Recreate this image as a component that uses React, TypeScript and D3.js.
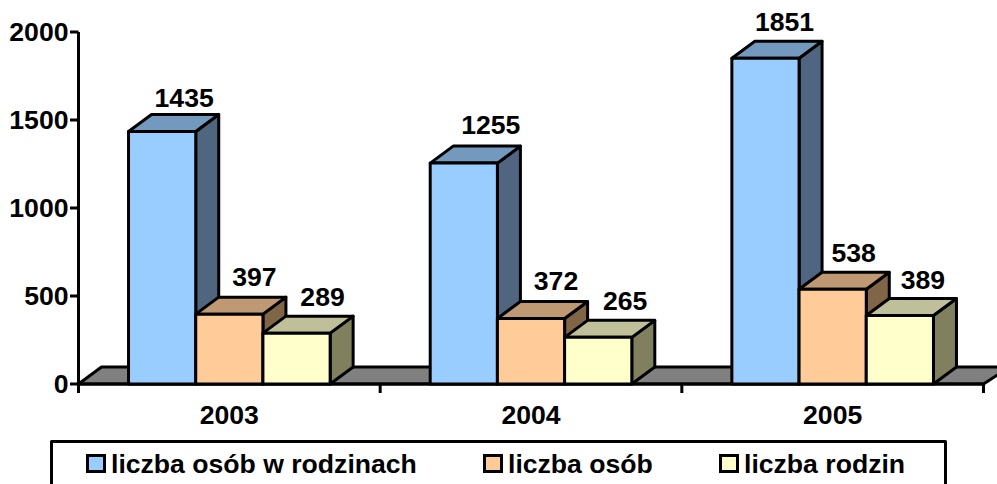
import React from "react";
import * as d3 from "d3";

const years = ["2003", "2004", "2005"];
const seriesNames = ["liczba osób w rodzinach", "liczba osób", "liczba rodzin"];
const personsInFamilies = [1435, 1255, 1851];
const persons = [397, 372, 538];
const families = [289, 265, 389];
const yTicks = [0, 500, 1000, 1500, 2000];
const seriesValues = [personsInFamilies, persons, families];
const frontColors = ["#99ccff", "#ffcc99", "#ffffcc"];
const topColors = ["#7399bf", "#bf9973", "#bfbf99"];
const sideColors = ["#4f6580", "#806547", "#80805f"];
// hand-placed data label nudges, [series][group]
const labelNudgeX = [[0, 5, -3], [3, 3, -1], [4, 5, 1]];
const labelNudgeY = [[0, -5, -3], [-4, -5, -3], [-3, -3, -3]];

const FONT = "'Liberation Sans', Arial, sans-serif";
const FS = 26.6;
const DX = 23;
const DY = -17;

export default function App() {
  const y = d3.scaleLinear().domain([0, 2000]).range([384, 32]);
  const x0 = d3.scaleBand().domain(years).range([78.5, 983.5]);
  const barW = 67.2;
  const base = y(0);
  const stroke = { stroke: "#000", strokeWidth: 3, strokeLinejoin: "round" as const };
  const ticksX = [...years.map((d) => x0(d)!), 983.5];
  return (
    <svg width={997} height={484} style={{ position: "absolute", left: 0, top: 0 }} fontFamily={FONT}>
      <rect width={997} height={484} fill="#fff" />
      <path d={`M78.5,${base}L${78.5 + DX},${base + DY}L1010,${base + DY}L${983.5},${base}Z`} fill="#808080" {...stroke} />
      <line x1={78.5} x2={78.5} y1={y(2000)} y2={base + 9} {...stroke} />
      <line x1={78.5} x2={983.5} y1={base} y2={base} {...stroke} />
      {yTicks.map((t) => (
        <g key={t}>
          <line x1={70} x2={78.5} y1={y(t)} y2={y(t)} {...stroke} />
          <text x={68.5} y={y(t) + 8.5} textAnchor="end" fontSize={FS} fontWeight="bold">{t}</text>
        </g>
      ))}
      {ticksX.map((t, i) => (
        <line key={i} x1={t} x2={t} y1={base} y2={base + 9} {...stroke} />
      ))}
      {years.map((yr, gi) => {
        const start = x0(yr)! + (x0.bandwidth() - barW * 3) / 2;
        return (
          <g key={yr}>
            {seriesValues.map((vals, si) => {
              const v = vals[gi];
              const l = start + si * barW;
              const r = l + barW;
              const t = y(v);
              return (
                <g key={si}>
                  <path d={`M${r},${t}L${r + DX},${t + DY}L${r + DX},${base + DY}L${r},${base}Z`} fill={sideColors[si]} {...stroke} />
                  <path d={`M${l},${t}L${l + DX},${t + DY}L${r + DX},${t + DY}L${r},${t}Z`} fill={topColors[si]} {...stroke} />
                  <rect x={l} y={t} width={barW} height={base - t} fill={frontColors[si]} {...stroke} />
                </g>
              );
            })}
            {seriesValues.map((vals, si) => {
              const l = start + si * barW;
              return (
                <text key={si} x={l + barW / 2 + 22 + labelNudgeX[si][gi]} y={y(vals[gi]) + DY - 7 + labelNudgeY[si][gi]} textAnchor="middle" fontSize={FS} fontWeight="bold">{vals[gi]}</text>
              );
            })}
            <text x={x0(yr)! + x0.bandwidth() / 2} y={424} textAnchor="middle" fontSize={FS} fontWeight="bold">{yr}</text>
          </g>
        );
      })}
      <rect x={51.5} y={441.5} width={894} height={60} fill="#fff" {...stroke} />
      {seriesNames.map((n, i) => {
        const sx = [87, 484, 720][i];
        return (
          <g key={n}>
            <rect x={sx + 0.5} y={455.5} width={17} height={16} fill={frontColors[i]} stroke="#000" strokeWidth={3} />
            <text x={sx + 24} y={473} fontSize={FS} fontWeight="bold">{n}</text>
          </g>
        );
      })}
    </svg>
  );
}
